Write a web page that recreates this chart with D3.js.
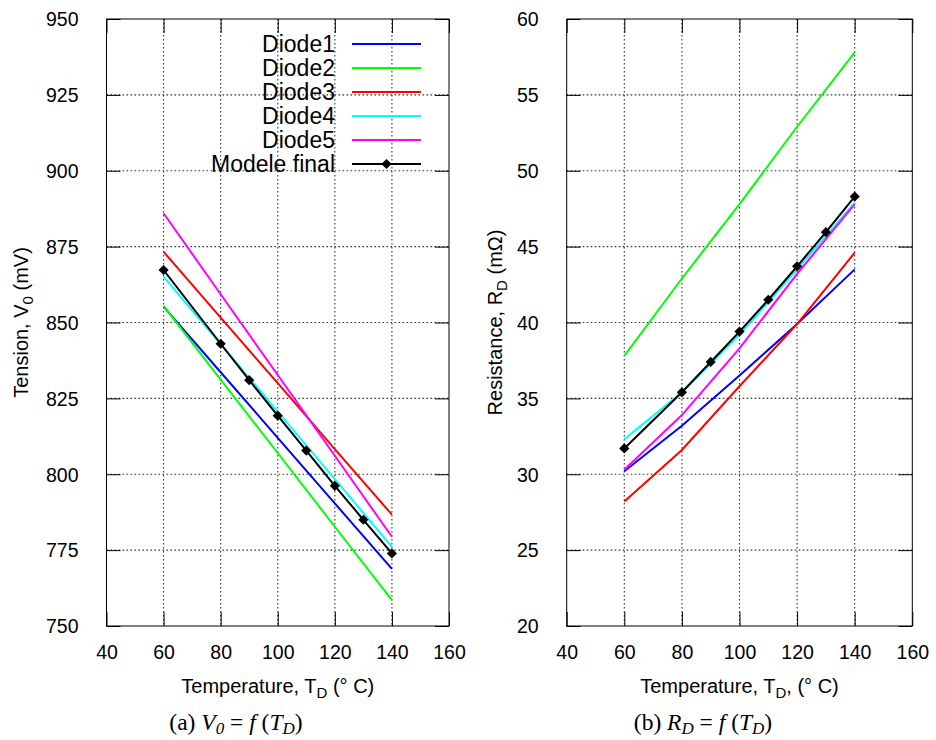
<!DOCTYPE html>
<html><head><meta charset="utf-8">
<script src="https://cdn.jsdelivr.net/npm/d3@7"></script>
<style>body{margin:0;background:#fff}svg{display:block}</style>
</head><body>
<script>
// ---- data ----
const temps = [60, 80, 100, 120, 140];
const modelTemps = [60, 80, 90, 100, 110, 120, 130, 140];
const seriesNames = ["Diode1", "Diode2", "Diode3", "Diode4", "Diode5", "Modele final"];
const seriesColors = ["#0000ff", "#00ff00", "#ff0000", "#00ffff", "#ff00ff", "#000000"];

const diode1V = [855.2, 833.6, 812.0, 790.4, 768.8];
const diode2V = [855.5, 831.2, 807.0, 782.7, 758.5];
const diode3V = [873.3, 851.6, 830.0, 808.3, 786.7];
const diode4V = [865.1, 842.9, 820.6, 798.4, 776.1];
const diode5V = [886.0, 859.3, 832.7, 806.1, 779.4];
const modelV  = [867.3, 843.0, 831.0, 819.3, 807.8, 796.2, 785.0, 773.9];

const diode1R = [30.2, 33.2, 36.5, 39.9, 43.5];
const diode2R = [37.8, 42.9, 47.8, 52.9, 57.8];
const diode3R = [28.2, 31.6, 35.8, 39.9, 44.6];
const diode4R = [32.3, 35.4, 39.2, 43.5, 47.9];
const diode5R = [30.3, 33.9, 38.3, 43.2, 47.8];
const modelR  = [31.7, 35.4, 37.4, 39.4, 41.5, 43.7, 45.95, 48.3];

const xTicks = [40, 60, 80, 100, 120, 140, 160];
const vTicks = [750, 775, 800, 825, 850, 875, 900, 925, 950];
const rTicks = [20, 25, 30, 35, 40, 45, 50, 55, 60];

// ---- drawing ----
const W = 936, H = 740;
const svg = d3.select("body").append("svg").attr("width", W).attr("height", H);
const FONT = "'Liberation Sans', Arial, sans-serif";
const SERIF = "'Liberation Serif', 'DejaVu Serif', serif";
const diamond = d3.symbol(d3.symbolSquare, 52)();

function panel(cfg) {
  const x = d3.scaleLinear().domain([40, 160]).range([cfg.x0, cfg.x1]);
  const y = d3.scaleLinear().domain(cfg.yDomain).range([cfg.y1, cfg.y0]);
  const g = svg.append("g");

  // grid
  const grid = g.append("g").attr("stroke", "#333").attr("stroke-width", 1.1)
    .attr("stroke-dasharray", "1.6,2.4");
  xTicks.slice(1, -1).forEach(t => grid.append("line")
    .attr("x1", x(t)).attr("x2", x(t)).attr("y1", cfg.y0).attr("y2", cfg.y1));
  cfg.yTicks.slice(1, -1).forEach(t => grid.append("line")
    .attr("y1", y(t)).attr("y2", y(t)).attr("x1", cfg.x0).attr("x2", cfg.x1));

  // axes (ticks inward, mirrored)
  const TL = 14;
  const axB = d3.axisBottom(x).tickValues(xTicks).tickSize(-TL).tickPadding(TL + 9);
  const axT = d3.axisTop(x).tickValues(xTicks).tickSize(-TL).tickFormat("");
  const axL = d3.axisLeft(y).tickValues(cfg.yTicks).tickSize(-TL).tickPadding(TL + 14);
  const axR = d3.axisRight(y).tickValues(cfg.yTicks).tickSize(-TL).tickFormat("");
  const styleAx = s => {
    s.selectAll("path").remove();
    s.selectAll("line").attr("stroke", "#000");
    s.selectAll("text").attr("font-family", FONT).attr("font-size", 19.5).attr("fill", "#000");
  };
  const gb = g.append("g").attr("transform", `translate(0,${cfg.y1})`).call(axB).call(styleAx);
  g.append("g").attr("transform", `translate(0,${cfg.y0})`).call(axT).call(styleAx);
  const gl = g.append("g").attr("transform", `translate(${cfg.x0},0)`).call(axL).call(styleAx);
  g.append("g").attr("transform", `translate(${cfg.x1},0)`).call(axR).call(styleAx);
  gb.selectAll("text").attr("y", 33).attr("dy", null);
  gl.selectAll("text").attr("dy", "0.35em");

  // frame
  g.append("rect").attr("x", cfg.x0).attr("y", cfg.y0)
    .attr("width", cfg.x1 - cfg.x0).attr("height", cfg.y1 - cfg.y0)
    .attr("fill", "none").attr("stroke", "#000").attr("stroke-width", 1);

  // series
  const line = d3.line().x(d => x(d[0])).y(d => y(d[1]));
  cfg.series.forEach((vals, i) => {
    const ts = i === 5 ? modelTemps : temps;
    const pts = ts.map((t, k) => [t, vals[k]]);
    g.append("path").datum(pts).attr("d", line).attr("fill", "none")
      .attr("stroke", seriesColors[i]).attr("stroke-width", 2);
    if (i === 5) {
      g.selectAll(null).data(pts).enter().append("path")
        .attr("d", diamond)
        .attr("transform", d => `translate(${x(d[0])},${y(d[1])}) rotate(45)`)
        .attr("fill", "#000");
    }
  });

  // x label
  const xl = g.append("text").attr("x", (cfg.x0 + cfg.x1) / 2).attr("y", 693)
    .attr("text-anchor", "middle").attr("font-family", FONT).attr("font-size", 20);
  xl.append("tspan").text("Temperature, T");
  xl.append("tspan").attr("dy", 5).attr("font-size", 15).text("D");
  xl.append("tspan").attr("dy", -5).text(cfg.xLabelTail);

  // y label
  const yl = g.append("text").attr("transform", `translate(${cfg.ylx},${(cfg.y0 + cfg.y1) / 2}) rotate(-90)`)
    .attr("text-anchor", "middle").attr("font-family", FONT).attr("font-size", 20);
  yl.append("tspan").text(cfg.yLabelHead);
  yl.append("tspan").attr("dy", 5).attr("font-size", 15).text(cfg.yLabelSub);
  yl.append("tspan").attr("dy", -5).text(cfg.yLabelTail);

  // caption
  const cap = svg.append("text").attr("x", cfg.capX).attr("y", 730)
    .attr("text-anchor", "middle").attr("font-family", SERIF).attr("font-size", 23.5);
  cfg.caption(cap);
  return {g, x, y};
}

function caption(letter, sym, sub) {
  return t => {
    t.append("tspan").text(letter + " ");
    t.append("tspan").attr("font-style", "italic").text(sym);
    t.append("tspan").attr("font-style", "italic").attr("font-size", 17).attr("dy", 4).text(sub);
    t.append("tspan").attr("dy", -4).text(" = ");
    t.append("tspan").attr("font-style", "italic").text("f");
    t.append("tspan").text(" (");
    t.append("tspan").attr("font-style", "italic").text("T");
    t.append("tspan").attr("font-style", "italic").attr("font-size", 17).attr("dy", 4).text("D");
    t.append("tspan").attr("dy", -4).text(")");
  };
}

const left = panel({
  x0: 106.5, x1: 449, y0: 19, y1: 626, yDomain: [750, 950], yTicks: vTicks,
  series: [diode1V, diode2V, diode3V, diode4V, diode5V, modelV],
  xLabelTail: " (° C)", ylx: 28, yLabelHead: "Tension, V", yLabelSub: "0", yLabelTail: " (mV)",
  capX: 236, caption: caption("(a)", "V", "0")
});

const right = panel({
  x0: 566.7, x1: 912.3, y0: 19, y1: 626, yDomain: [20, 60], yTicks: rTicks,
  series: [diode1R, diode2R, diode3R, diode4R, diode5R, modelR],
  xLabelTail: ", (° C)", ylx: 502, yLabelHead: "Resistance, R", yLabelSub: "D", yLabelTail: " (mΩ)",
  capX: 703, caption: caption("(b)", "R", "D")
});

// legend (left panel)
const lg = left.g.append("g");
seriesNames.forEach((n, i) => {
  const yy = 44 + i * 24;
  lg.append("text").attr("x", 335).attr("y", yy).attr("dy", "0.35em").attr("text-anchor", "end")
    .attr("font-family", FONT).attr("font-size", 23).text(n);
  lg.append("line").attr("x1", 352).attr("x2", 421).attr("y1", yy).attr("y2", yy)
    .attr("stroke", seriesColors[i]).attr("stroke-width", 2);
  if (i === 5) lg.append("path").attr("d", diamond)
    .attr("transform", `translate(386.5,${yy}) rotate(45)`).attr("fill", "#000");
});
</script>
</body></html>
